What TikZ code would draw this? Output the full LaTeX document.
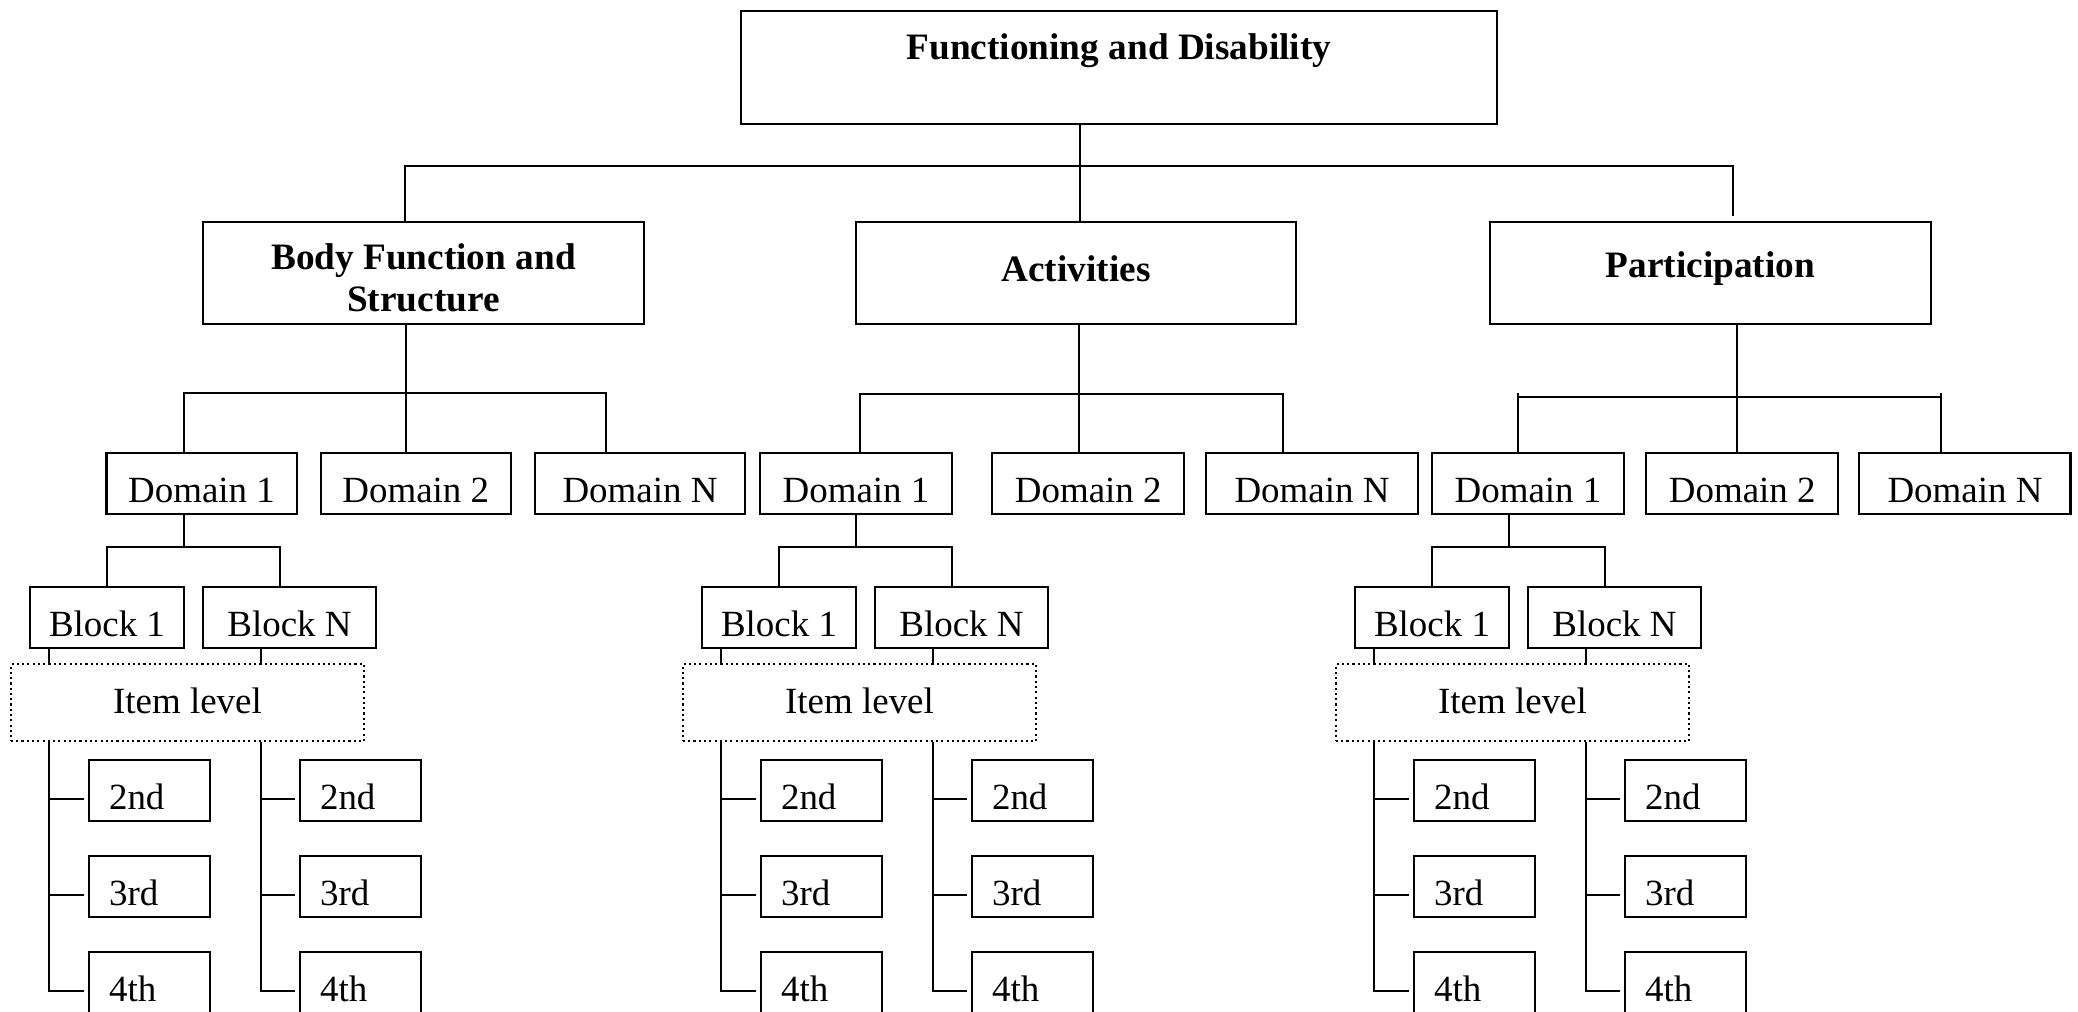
\documentclass[tikz,border=0pt]{standalone}
\usepackage{fontspec}
\setmainfont{Liberation Serif}
\usetikzlibrary{positioning}

\begin{document}
\begin{tikzpicture}[x=0.01cm, y=-0.01cm, line width=0.6pt,
		box/.style = {draw, inner sep=0pt, font=\fontsize{10.5}{12}\selectfont, text height=0.49cm, text depth=0.12cm},
		head/.style = {draw, inner sep=0pt, font=\fontsize{10.6}{12}\selectfont\bfseries, minimum height=1.02cm, anchor=north},
		dom/.style = {box, minimum width=1.92cm, anchor=north},
		blk/.style = {box, anchor=north},
		item/.style = {box, dash pattern=on 0.6pt off 0.9pt, text depth=0.28cm, minimum width=3.53cm, anchor=north},
		lvl/.style = {box, inner xsep=0.2cm, text width=0.81cm, align=left, anchor=north west}]
		\useasboundingbox (0,0) rectangle (2078,1012);
		\node[head, minimum width=7.56cm, text height=0.48cm, text depth=0.65cm] (fd) at (1119,10) {Functioning and Disability};
		\node[head, minimum width=4.41cm, align=center] (bfs) at (423.5,221) {\rule{0pt}{10pt}Body Function and\\Structure};
		\node[head, minimum width=4.40cm, text height=0.59cm, text depth=0.43cm] (act) at (1076,221) {Activities};
		\node[head, minimum width=4.41cm, text height=0.55cm, text depth=0.47cm] (par) at (1710.5,221) {Participation};
		% domains
		\node[dom, minimum width=1.90cm] (bd1) at (201.5,452) {Domain 1};
		\node[dom, minimum width=1.90cm, right=0.22cm of bd1] (bd2) {Domain 2};
		\node[dom, minimum width=2.10cm, right=0.22cm of bd2] (bdn) {Domain N};
		\node[dom] (ad1) at (856,452) {Domain 1};
		\node[dom, right=0.38cm of ad1] (ad2) {Domain 2};
		\node[dom, minimum width=2.11cm, right=0.2cm of ad2] (adn) {Domain N};
		\node[dom] (pd1) at (1528,452) {Domain 1};
		\node[dom, right=0.20cm of pd1] (pd2) {Domain 2};
		\node[dom, minimum width=2.11cm, right=0.19cm of pd2] (pdn) {Domain N};
		% top level
		\coordinate (top) at (1080,166);
		\coordinate (topl) at (405,166);
		\coordinate (topr) at (1733,166);
		\draw (fd.south -| top) -- (top |- act.north);
		\draw[shorten >=0.05cm] (topl |- bfs.north) -- (topl) -- (topr) -- (topr |- par.north);
		% second level
		\coordinate (bj) at (406,393);
		\coordinate (bjl) at (184,393);
		\coordinate (bjr) at (606,393);
		\draw (bfs.south -| bj) -- (bj |- bd2.north);
		\draw (bjl |- bd1.north) -- (bjl) -- (bjr) -- (bjr |- bdn.north);
		\coordinate (aj) at (1079,394);
		\coordinate (ajl) at (860,394);
		\coordinate (ajr) at (1283,394);
		\draw (act.south -| aj) -- (aj |- ad2.north);
		\draw (ajl |- ad1.north) -- (ajl) -- (ajr) -- (ajr |- adn.north);
		\coordinate (pj) at (1737,397);
		\coordinate (pjl) at (1518,393);
		\coordinate (pjr) at (1941,393);
		\draw (par.south -| pj) -- (pj |- pd2.north);
		\draw (pjl |- pj) -- (pjr |- pj);
		\draw (pjl) -- (pjl |- pd1.north);
		\draw (pjr) -- (pjr |- pdn.north);
		% blocks and item levels
		\foreach \o/\c in {0/b, 672/a, 1325/p} {
			\node[blk, minimum width=1.54cm] (\c b1) at (107+\o,586) {Block 1};
			\node[blk, minimum width=1.73cm] (\c bn) at (289.5+\o,586) {Block N};
			\node[item] (\c il) at (187.5+\o,663) {Item level};
			\foreach \k/\t in {0/2nd, 1/3rd, 2/4th} {
				\node[lvl] (\c l\k) at (88+\o,759+96*\k) {\t};
				\node[lvl] (\c r\k) at (299+\o,759+96*\k) {\t};
			}
			\coordinate (\c k) at (184+\o,547);
			\coordinate (\c k2) at (280+\o,547);
			\coordinate (\c x1) at (49+\o,0);
			\coordinate (\c x2) at (261+\o,0);
			\draw (\c d1.south -| \c k) -- (\c k);
			\draw (\c b1.north) |- (\c k2) -- (\c k2 |- \c bn.north);
			\draw (\c x1 |- \c b1.south) -- (\c x1 |- \c il.north);
			\draw (\c x2 |- \c bn.south) -- (\c x2 |- \c il.north);
			\draw[shorten >=0.04cm] (\c x1 |- \c il.south) |- ([yshift=-0.08cm]\c l2.west);
			\draw[shorten >=0.04cm] (\c x2 |- \c il.south) |- ([yshift=-0.08cm]\c r2.west);
			\foreach \k in {0,1} {
				\draw[shorten >=0.04cm] ([yshift=-0.08cm]\c l\k.west -| \c x1) -- ([yshift=-0.08cm]\c l\k.west);
				\draw[shorten >=0.04cm] ([yshift=-0.08cm]\c r\k.west -| \c x2) -- ([yshift=-0.08cm]\c r\k.west);
			}
		}
	\end{tikzpicture}
\end{document}
